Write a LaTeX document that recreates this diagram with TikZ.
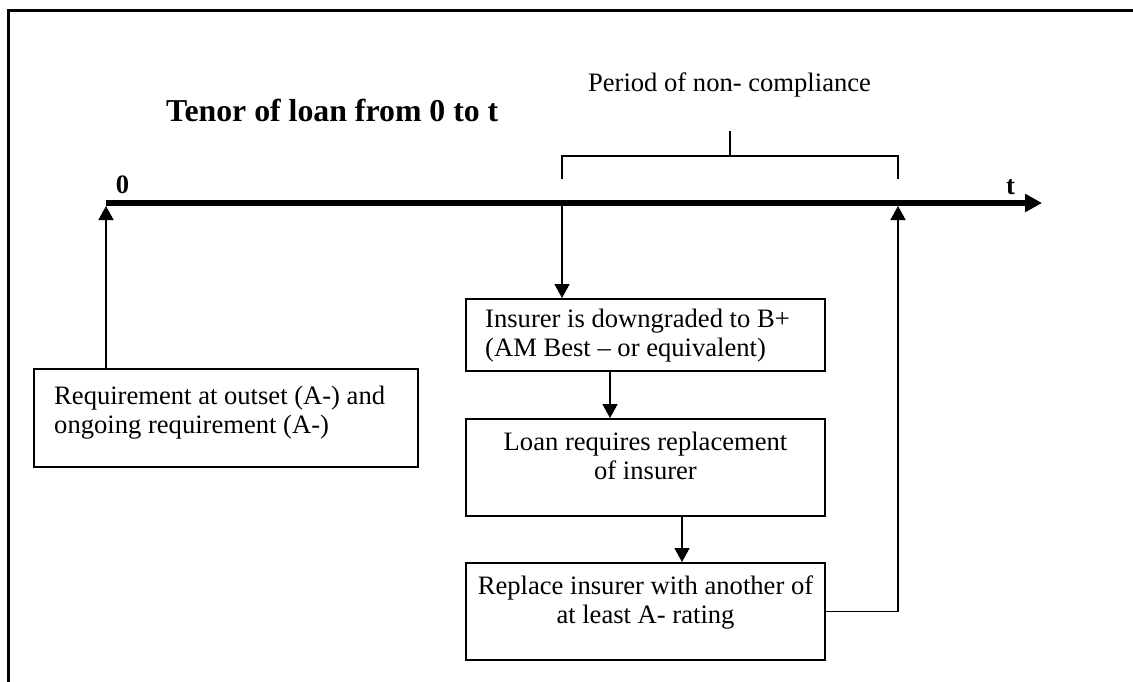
\documentclass[tikz,border=0pt]{standalone}
\usepackage{fontspec}
\setmainfont{Liberation Serif}
\usetikzlibrary{arrows.meta,calc}
\newcommand\bodyfnt{\fontsize{26.6}{29}\selectfont}
\newcommand\titlefnt{\fontsize{31.8}{36}\selectfont\bfseries}
\newcommand\markfnt{\fontsize{26.6}{29}\selectfont\bfseries}
\begin{document}
\begin{tikzpicture}[x=1pt,y=-1pt,
  box/.style={draw,line width=2pt,rectangle,inner sep=0pt},
  txt/.style={font=\bodyfnt,inner sep=0pt,execute at begin node=\strut,execute at end node=\strut},
  conn/.style={line width=1.6pt,-{Triangle[length=14pt,width=15pt]}},
  timeline/.style={line width=5.5pt,-{Triangle[length=17pt,width=17.5pt]}},
  brk/.style={line width=1.7pt},
  frame/.style={line width=2.7pt}]
\useasboundingbox (0,0) rectangle (1133,681);
% frame (only top and left edges visible)
\draw[frame] (8.7,700) -- (8.7,10.3) -- (1150,10.3);
% title and labels
\node[font=\titlefnt,anchor=base west,inner sep=0pt] (title) at (166,121.7) {Tenor of loan from 0 to t};
\node[font=\bodyfnt,anchor=base,inner sep=0pt] (period) at (729.5,91) {Period of non- compliance};
\node[font=\markfnt,anchor=base,inner sep=0pt] (zero) at (122.5,193) {0};
\node[font=\markfnt,anchor=base,inner sep=0pt] (tlab) at (1010.5,194) {t};
% timeline
\coordinate (z) at (106,203);
\coordinate (tend) at (1042,203);
\draw[timeline] (z) -- (tend);
\coordinate (zb) at (106,206);
\coordinate (ds) at (562,203);
\coordinate (tb) at (898,206);
\coordinate (x12) at (610,0);
\coordinate (x23) at (682,0);
% bracket
\draw[brk] (562,179) -- (562,156) -- (898,156) -- (898,179);
\draw[brk] (730,156) -- (730,131);
% boxes
\node[box,minimum width=384pt,minimum height=98pt] (lb) at (226,418) {};
\node[txt,anchor=north west,align=left] (lbt) at (54,385.7) {Requirement at outset (A-) and\\ongoing requirement (A-)};
\node[box,minimum width=359pt,minimum height=72pt] (b1) at (645.5,335) {};
\begin{scope}
\clip (466,299) rectangle (825,361.5);
\node[txt,anchor=north west,align=left] (b1t) at (485,308.7) {Insurer is downgraded to B+\\(AM Best -- or equivalent)};
\end{scope}
\node[box,minimum width=359pt,minimum height=97pt] (b2) at (645.5,467.5) {};
\node[txt,anchor=north,align=center] (b2t) at (645.5,431.7) {Loan requires replacement\\of insurer};
\node[box,minimum width=359pt,minimum height=97pt] (b3) at (645.5,611.5) {};
\node[txt,anchor=north,align=center] (b3t) at (645.5,575.7) {Replace insurer with another of\\at least A- rating};
% connectors
\draw[conn] (lb.north -| zb) -- (zb);
\draw[conn] (ds) -- (b1.north -| ds);
\draw[conn] (b1.south -| x12) -- (b2.north -| x12);
\draw[conn] (b2.south -| x23) -- (b3.north -| x23);
\draw[conn] (b3.east) -- (b3.east -| tb) -- (tb);
\end{tikzpicture}
\end{document}
